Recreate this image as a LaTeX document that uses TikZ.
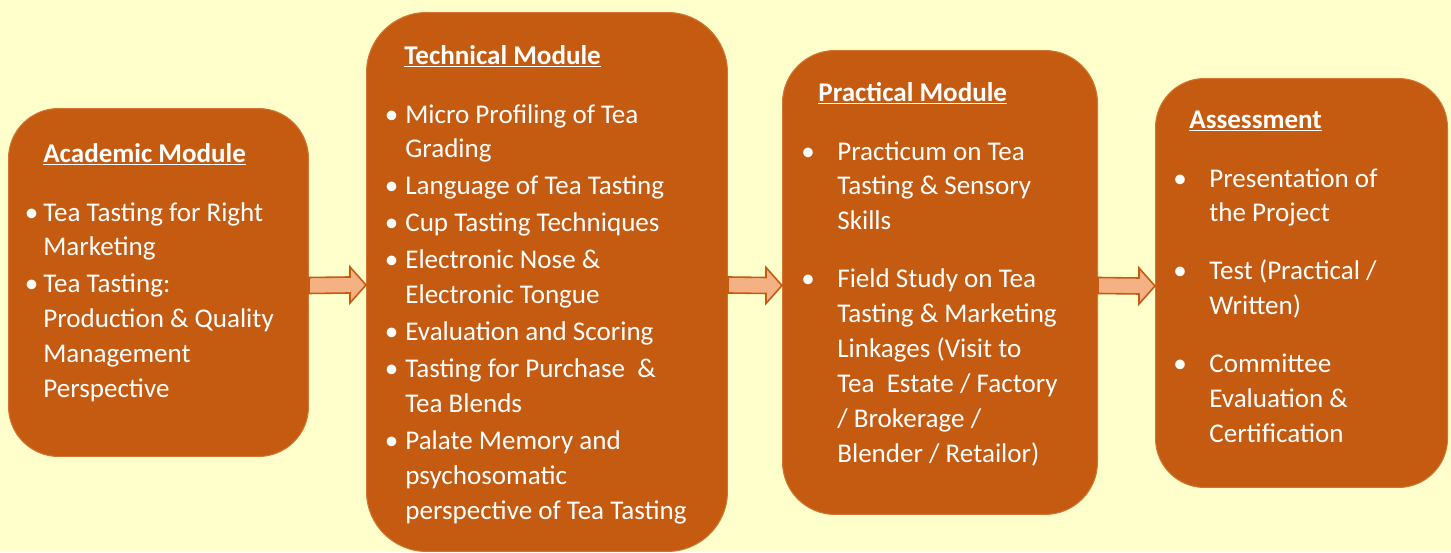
\documentclass[tikz,border=0pt]{standalone}
\usepackage{fontspec}
\setmainfont{Carlito}
\usetikzlibrary{positioning,calc}

\definecolor{bgyellow}{HTML}{FFFFCC}
\definecolor{rust}{HTML}{C55A11}
\definecolor{peach}{HTML}{F4B183}

\newcommand{\modfont}{\fontsize{15.4}{19.9}\selectfont}
\newcommand{\ttl}[1]{\textbf{\underline{#1}}}
\newcommand{\bul}{\hspace*{-0.05cm}\textbullet}

\begin{document}
\begin{tikzpicture}[x=0.02cm,y=-0.02cm,
	modbox/.style={rectangle,fill=rust,draw=rust!70!peach,line width=0.6pt,anchor=north west,inner sep=0pt},
	hd/.style={text=white,font=\modfont,anchor=base west,inner sep=0pt},
	lst/.style={text=white,font=\modfont,anchor=base west,inner sep=0pt},
	arr/.style={fill=peach,draw=rust,line width=0.9pt,
		to path={($(\tikztostart)+(0,-8)$) -- ($(\tikztotarget)+(-16,-8)$) -- ($(\tikztotarget)+(-16,-18)$) -- (\tikztotarget) -- ($(\tikztotarget)+(-16,18)$) -- ($(\tikztotarget)+(-16,8)$) -- ($(\tikztostart)+(0,8)$) -- cycle}}]
				\useasboundingbox (0,0) rectangle (1451,552);
				\fill[bgyellow] (0,0) rectangle (1451,552);

				\node[modbox,minimum width=6cm,minimum height=6.96cm,rounded corners=1cm] (acad) at (8,108) {};
				\node[modbox,minimum width=7.22cm,minimum height=10.78cm,rounded corners=1.2cm] (tech) at (366,12) {};
				\node[modbox,minimum width=6.3cm,minimum height=9.28cm,rounded corners=1.05cm] (prac) at (782,50) {};
				\node[modbox,minimum width=5.84cm,minimum height=8.18cm,rounded corners=0.98cm] (asmt) at (1155,78) {};

				\draw[arr] ([yshift=-0.06cm]acad.east) to ([yshift=-0.06cm]tech.west);
				\draw[arr] ([yshift=-0.06cm]tech.east) to ([yshift=-0.06cm]prac.west);
				\draw[arr] ([yshift=-0.06cm]prac.east) to ([yshift=-0.06cm]asmt.west);

				\node[hd] (acadT) at (43,162) {\ttl{Academic Module}};
				\node[lst] (acadL) at (27,221) {\begin{tabular}[t]{@{}p{0.32cm}@{}l@{}}
					\bul & Tea Tasting for Right\\
					& Marketing\\[1.1pt]
					\bul & Tea Tasting:\\
					& Production \& Quality\\
					& Management\\
					& Perspective
				\end{tabular}};

				\node[hd] (techT) at (404,64) {\ttl{Technical Module}};
				\node[lst] (techL) at (387,123) {\begin{tabular}[t]{@{}p{0.36cm}@{}l@{}}
					\bul & Micro Profiling of Tea\\
					& Grading\\[1.1pt]
					\bul & Language of Tea Tasting\\[1.1pt]
					\bul & Cup Tasting Techniques\\[1.1pt]
					\bul & Electronic Nose \&\\
					& Electronic Tongue\\[1.1pt]
					\bul & Evaluation and Scoring\\[1.1pt]
					\bul & Tasting for Purchase\ \ \&\\
					& Tea Blends\\[1.1pt]
					\bul & Palate Memory and\\
					& psychosomatic\\
					& perspective of Tea Tasting
				\end{tabular}};

				\node[hd] (pracT) at (818,101) {\ttl{Practical Module}};
				\node[lst] (pracL) at (801,160) {\begin{tabular}[t]{@{}p{0.72cm}@{}l@{}}
					\textbullet & Practicum on Tea\\
					& Tasting \& Sensory\\
					& Skills\\[13.1pt]
					\textbullet & Field Study on Tea\\
					& Tasting \& Marketing\\
					& Linkages (Visit to\\
					& Tea\ \ Estate / Factory\\
					& / Brokerage /\\
					& Blender / Retailor)
				\end{tabular}};

				\node[hd] (asmtT) at (1189,128) {\ttl{Assessment}};
				\node[lst] (asmtL) at (1173,187) {\begin{tabular}[t]{@{}p{0.72cm}@{}l@{}}
					\textbullet & Presentation of\\
					& the Project\\[13.1pt]
					\textbullet & Test (Practical /\\
					& Written)\\[13.1pt]
					\textbullet & Committee\\
					& Evaluation \&\\
					& Certification
				\end{tabular}};
			\end{tikzpicture}
\end{document}
